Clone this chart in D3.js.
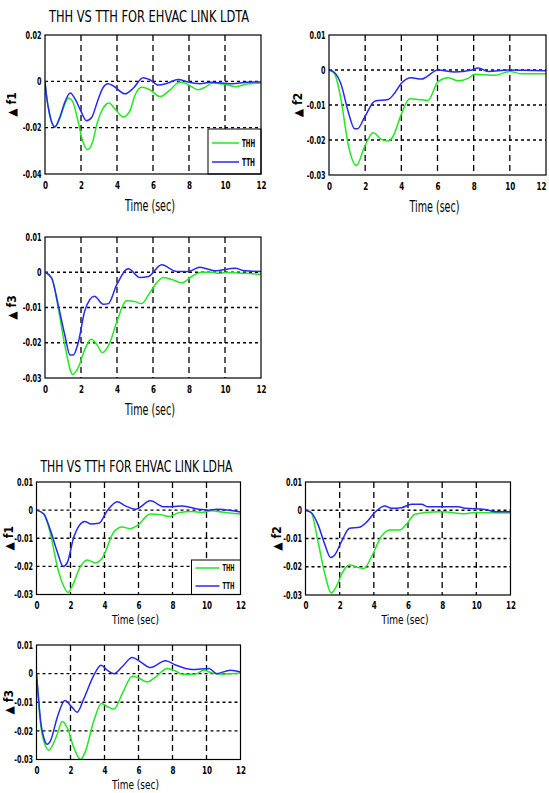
<!DOCTYPE html>
<html>
<head>
<meta charset="utf-8">
<script src="https://cdn.jsdelivr.net/npm/d3@7"></script>
<style>
  body { margin: 0; background: #fff; }
  svg text { font-family: "Liberation Sans Narrow", "DejaVu Sans Condensed", "Arial Narrow", sans-serif; }
</style>
</head>
<body>
<svg id="fig" width="549" height="793"></svg>
<script>
// ---- shared axis values ----
const timeTicks = [0, 2, 4, 6, 8, 10, 12];
const timeLabels = ["0", "2", "4", "6", "8", "10", "12"];
const ticksWide = [-0.04, -0.02, 0, 0.02];
const labelsWide = ["-0.04", "-0.02", "0", "0.02"];
const ticksStd = [-0.03, -0.02, -0.01, 0, 0.01];
const labelsStd = ["-0.03", "-0.02", "-0.01", "0", "0.01"];
const seriesNames = ["THH", "TTH"];
const titles = ["THH VS TTH FOR EHVAC LINK LDTA", "THH VS TTH FOR EHVAC LINK LDHA"];

// ---- LDTA responses: [time (s), deviation] ----
const ldtaF1Thh = [[0,0],[0.08,-0.006],[0.25,-0.014],[0.55,-0.0197],[0.8,-0.0165],[1.05,-0.011],[1.3,-0.0072],[1.55,-0.009],[1.8,-0.016],[2.1,-0.026],[2.37,-0.0295],[2.65,-0.026],[2.9,-0.018],[3.2,-0.012],[3.55,-0.0094],[3.9,-0.012],[4.35,-0.0154],[4.7,-0.013],[5.0,-0.006],[5.37,-0.0026],[5.8,-0.0035],[6.4,-0.0066],[6.9,-0.004],[7.5,-0.0003],[7.9,-0.0012],[8.5,-0.0036],[8.9,-0.0025],[9.3,-0.0007],[9.9,-0.0012],[10.6,-0.0023],[11.2,-0.0012],[12,-0.0007]];
const ldtaF1Tth = [[0,0],[0.08,-0.006],[0.25,-0.014],[0.55,-0.0197],[0.8,-0.016],[1.1,-0.009],[1.4,-0.005],[1.7,-0.008],[2.0,-0.013],[2.3,-0.017],[2.6,-0.0155],[2.9,-0.009],[3.2,-0.003],[3.5,-0.001],[3.8,-0.002],[4.45,-0.0054],[4.9,-0.003],[5.45,0.0016],[5.8,0.0008],[6.3,-0.0016],[6.8,-0.0008],[7.4,0.0008],[7.9,-0.0002],[8.6,-0.001],[9.2,-0.0004],[10.4,-0.001],[11.2,-0.0004],[12,-0.0003]];

const ldtaF2Thh = [[0,0],[0.3,-0.001],[0.68,-0.0089],[1.05,-0.021],[1.51,-0.0273],[1.97,-0.0219],[2.44,-0.0179],[2.9,-0.0198],[3.27,-0.0203],[3.54,-0.019],[4.0,-0.0126],[4.46,-0.0082],[4.93,-0.0084],[5.48,-0.0087],[6.03,-0.0033],[6.6,-0.0022],[7.14,-0.0031],[7.69,-0.0024],[8.06,-0.0012],[9.17,-0.0015],[10.0,-0.0004],[10.65,-0.0011],[12,-0.0011]];
const ldtaF2Tth = [[0,0],[0.3,-0.0007],[0.68,-0.0043],[1.05,-0.0117],[1.42,-0.0168],[1.57,-0.0168],[1.97,-0.0135],[2.53,-0.0089],[3.27,-0.0084],[3.63,-0.0066],[4.0,-0.0038],[4.56,-0.0022],[5.1,-0.0026],[6.03,0],[6.95,-0.0006],[7.9,0],[8.25,0.0006],[8.8,-0.0004],[9.9,0],[12,-0.0002]];

const ldtaF3Thh = [[0,0],[0.37,-0.0015],[0.74,-0.0103],[1.11,-0.0209],[1.54,-0.029],[1.85,-0.027],[2.22,-0.0218],[2.56,-0.019],[2.87,-0.0204],[3.19,-0.0228],[3.61,-0.0199],[3.98,-0.0142],[4.54,-0.0081],[4.91,-0.0082],[5.37,-0.0089],[5.74,-0.0065],[6.11,-0.0036],[6.57,-0.0015],[7.13,-0.0022],[7.59,-0.003],[8.15,-0.0012],[8.7,0],[9.26,0],[9.63,-0.0003],[10.1,-0.0001],[11.1,-0.0003],[12,-0.0006]];
const ldtaF3Tth = [[0,0],[0.37,-0.0017],[0.74,-0.0094],[1.11,-0.018],[1.39,-0.0235],[1.57,-0.0235],[1.85,-0.0199],[2.22,-0.0108],[2.74,-0.0068],[3.24,-0.0091],[3.52,-0.0089],[3.98,-0.0036],[4.63,0.001],[5.28,-0.0015],[5.74,-0.0012],[6.48,0.0021],[7.31,0.0002],[7.96,0.0002],[8.6,0.0014],[9.44,0.0004],[10.56,0.0011],[11.1,0.0004],[12,0.0002]];

// ---- LDHA responses ----
const ldhaF1Thh = [[0,0],[0.43,-0.0014],[0.82,-0.0084],[1.22,-0.02],[1.61,-0.0272],[1.86,-0.0293],[2.1,-0.027],[2.59,-0.02],[2.98,-0.0177],[3.47,-0.0188],[3.86,-0.0171],[4.55,-0.0078],[5.04,-0.006],[5.53,-0.0066],[5.92,-0.0055],[6.7,-0.0014],[7.29,-0.0016],[7.78,-0.0023],[8.37,-0.0009],[9.16,-0.0005],[9.75,-0.0008],[10.33,-0.0002],[10.9,-0.0007],[12,-0.0014]];
const ldhaF1Tth = [[0,0],[0.43,-0.0014],[0.82,-0.0072],[1.22,-0.0148],[1.57,-0.02],[1.8,-0.0188],[2.2,-0.0095],[2.84,-0.004],[3.18,-0.0049],[3.67,-0.0047],[4.16,-0.0002],[4.75,0.003],[5.24,0.0015],[5.82,0.0003],[6.7,0.0033],[7.49,0.0012],[7.98,0.0012],[8.57,0.0015],[9.55,0.0003],[10.1,0],[10.6,0.0003],[12,-0.0007]];

const ldhaF2Thh = [[0,0],[0.33,-0.0008],[0.72,-0.0107],[1.12,-0.0223],[1.51,-0.0293],[1.8,-0.027],[2.19,-0.0217],[2.58,-0.0194],[3.07,-0.0202],[3.42,-0.0206],[3.86,-0.0165],[4.44,-0.0093],[4.93,-0.007],[5.52,-0.007],[5.91,-0.0049],[6.4,-0.0014],[6.99,-0.0008],[7.96,-0.0005],[9.33,-0.0012],[9.92,-0.0008],[12,-0.001]];
const ldhaF2Tth = [[0,0],[0.33,-0.0008],[0.72,-0.0049],[1.12,-0.0119],[1.47,-0.0167],[1.7,-0.0159],[2.09,-0.0113],[2.58,-0.0064],[3.17,-0.006],[3.56,-0.0043],[4.05,-0.0008],[4.64,0.0015],[5.03,0.0007],[5.62,0.0009],[6.2,0.0021],[6.79,0.0021],[7.18,0.0012],[8.94,0.0012],[9.33,0.0007],[10.5,0.0003],[11.1,-0.0005],[12,-0.0005]];

const ldhaF3Thh = [[0,0],[0.1,-0.0082],[0.24,-0.0176],[0.49,-0.0247],[0.73,-0.0268],[0.92,-0.0253],[1.22,-0.0212],[1.51,-0.0167],[1.8,-0.0188],[2.2,-0.0259],[2.59,-0.03],[2.88,-0.0271],[3.37,-0.0165],[3.82,-0.0104],[4.16,-0.0115],[4.55,-0.0124],[5.04,-0.0071],[5.63,-0.0009],[6.02,-0.0015],[6.51,-0.0029],[7.0,-0.0012],[7.69,0.0018],[8.18,0.0009],[8.57,-0.0002],[9.35,-0.0002],[9.84,0.0012],[10.33,0.0002],[10.9,-0.0002],[12,0.0002]];
const ldhaF3Tth = [[0,0],[0.1,-0.0071],[0.24,-0.0165],[0.43,-0.0224],[0.63,-0.0247],[0.82,-0.0235],[1.22,-0.0153],[1.67,-0.0094],[2.1,-0.0118],[2.39,-0.0135],[2.78,-0.0088],[3.37,-0.0006],[3.8,0.0029],[4.16,0.0012],[4.55,0],[5.04,0.0024],[5.63,0.0056],[6.12,0.0041],[6.7,0.0021],[7.59,0.0045],[8.18,0.003],[8.76,0.0018],[9.16,0.0014],[10.14,0.0018],[10.6,0],[11.4,0.0012],[12,0.0006]];

// ---- panel layout ----
const panels = [
  { box: {l: 45, r: 261, t: 35, b: 174}, ticks: ticksWide, labels: labelsWide, ylabel: "▲ f1", thh: ldtaF1Thh, tth: ldtaF1Tth,
    title: titles[0], titleY: 22, titleLen: 200, legend: true, big: true, ylabX: 12 },
  { box: {l: 329, r: 546, t: 35, b: 175}, ticks: ticksStd, labels: labelsStd, ylabel: "▲ f2", thh: ldtaF2Thh, tth: ldtaF2Tth,
    big: true, ylabX: 298 },
  { box: {l: 45, r: 261, t: 237, b: 378}, ticks: ticksStd, labels: labelsStd, ylabel: "▲ f3", thh: ldtaF3Thh, tth: ldtaF3Tth,
    big: true, ylabX: 12 },
  { box: {l: 36.5, r: 240.5, t: 482, b: 594.5}, ticks: ticksStd, labels: labelsStd, ylabel: "▲ f1", thh: ldhaF1Thh, tth: ldhaF1Tth,
    title: titles[1], titleY: 472, titleLen: 192, legend: true, big: false, ylabX: 9 },
  { box: {l: 305.5, r: 510.5, t: 482, b: 595}, ticks: ticksStd, labels: labelsStd, ylabel: "▲ f2", thh: ldhaF2Thh, tth: ldhaF2Tth,
    big: false, ylabX: 277 },
  { box: {l: 36.5, r: 240.5, t: 645, b: 759.5}, ticks: ticksStd, labels: labelsStd, ylabel: "▲ f3", thh: ldhaF3Thh, tth: ldhaF3Tth,
    big: false, ylabX: 9 }
];

const colorThh = "#22e822";
const colorTth = "#2828f4";
const svg = d3.select("#fig");
const W = 549;

// squeeze a text node horizontally to a fraction of its natural width
function squeeze(sel, f) {
  sel.each(function () {
    const w = this.getComputedTextLength();
    d3.select(this).attr("textLength", w * f).attr("lengthAdjust", "spacingAndGlyphs");
  });
}

panels.forEach((p, i) => {
  const b = p.box;
  const x = d3.scaleLinear().domain([0, 12]).range([b.l, b.r]);
  const yDom = d3.extent(p.ticks);
  const y = d3.scaleLinear().domain(yDom).range([b.b, b.t]);
  const g = svg.append("g");

  g.append("rect").attr("x", b.l).attr("y", b.t).attr("width", b.r - b.l).attr("height", b.b - b.t).attr("fill", "#fff");

  // dashed grid at inner ticks
  g.selectAll("line.vg").data(timeTicks.slice(1, -1)).join("line")
    .attr("x1", d => x(d)).attr("x2", d => x(d)).attr("y1", b.t).attr("y2", b.b)
    .attr("stroke", "#000").attr("stroke-width", 1.3).attr("stroke-dasharray", "6,4");
  g.selectAll("line.hg").data(p.ticks.filter(v => v !== yDom[0] && v !== yDom[1])).join("line")
    .attr("x1", b.l).attr("x2", b.r).attr("y1", d => y(d)).attr("y2", d => y(d))
    .attr("stroke", "#000").attr("stroke-width", 1.3).attr("stroke-dasharray", "3,3");

  // curves
  const clipId = "clip" + i;
  svg.append("clipPath").attr("id", clipId).append("rect")
    .attr("x", b.l).attr("y", b.t).attr("width", b.r - b.l).attr("height", b.b - b.t);
  const line = d3.line().x(d => x(d[0])).y(d => y(d[1])).curve(d3.curveMonotoneX);
  g.append("path").datum(p.thh).attr("d", line).attr("fill", "none")
    .attr("stroke", colorThh).attr("stroke-width", 1.5).attr("clip-path", `url(#${clipId})`);
  g.append("path").datum(p.tth).attr("d", line).attr("fill", "none")
    .attr("stroke", colorTth).attr("stroke-width", 1.5).attr("clip-path", `url(#${clipId})`);

  // legend
  if (p.legend) {
    const big = p.big;
    const lw = big ? 53 : 49, lh = big ? 45 : 34.5;
    const lx = b.r - lw, ly = b.b - lh;
    const lg = g.append("g");
    lg.append("rect").attr("x", lx).attr("y", ly).attr("width", lw).attr("height", lh)
      .attr("fill", "#fff").attr("stroke", "#000").attr("stroke-width", 1);
    const rows = [colorThh, colorTth];
    const rowY = big ? [ly + 14, ly + 33] : [ly + 8, ly + 26];
    seriesNames.forEach((name, k) => {
      lg.append("line").attr("x1", lx + 4).attr("x2", lx + (big ? 31 : 28)).attr("y1", rowY[k]).attr("y2", rowY[k])
        .attr("stroke", rows[k]).attr("stroke-width", 1.5);
      lg.append("text").attr("x", lx + (big ? 34 : 31)).attr("y", rowY[k]).attr("dy", "0.35em")
        .attr("font-size", big ? 10 : 9).attr("font-weight", "bold")
        .attr("textLength", big ? 13 : 12).attr("lengthAdjust", "spacingAndGlyphs").text(name);
    });
  }

  // frame
  g.append("rect").attr("x", b.l).attr("y", b.t).attr("width", b.r - b.l).attr("height", b.b - b.t)
    .attr("fill", "none").attr("stroke", "#000").attr("stroke-width", 1.2);

  // axes
  const xa = g.append("g").attr("transform", `translate(0,${b.b})`)
    .call(d3.axisBottom(x).tickValues(timeTicks).tickFormat((d, k) => timeLabels[k]).tickSize(0).tickPadding(p.big ? 8 : 7));
  const ya = g.append("g").attr("transform", `translate(${b.l},0)`)
    .call(d3.axisLeft(y).tickValues(p.ticks).tickFormat((d, k) => p.labels[k]).tickSize(0).tickPadding(3.5));
  [xa, ya].forEach(a => {
    a.select(".domain").remove();
    a.attr("font-family", null).attr("font-size", null);
    a.selectAll("text").attr("font-size", 10).attr("font-weight", "bold").attr("fill", "#000");
  });
  squeeze(xa.selectAll("text"), 0.8);
  squeeze(ya.selectAll("text"), 0.72);
  // keep an edge label inside the page
  xa.selectAll("text").each(function (d) {
    if (x(d) + 8 > W) d3.select(this).attr("text-anchor", "end").attr("x", W - 3 - x(d));
  });

  // axis titles
  const cx = (b.l + b.r) / 2;
  g.append("text").attr("x", cx - 3).attr("y", b.b + (p.big ? 37 : 29))
    .attr("text-anchor", "middle").attr("font-size", p.big ? 16 : 13)
    .attr("textLength", p.big ? 50 : 47).attr("lengthAdjust", "spacingAndGlyphs").text("Time (sec)");
  g.append("text").attr("transform", `translate(${p.ylabX},${(b.t + b.b) / 2}) rotate(-90)`)
    .attr("text-anchor", "middle").attr("dy", "0.35em").attr("font-size", 12).attr("font-weight", "bold").text(p.ylabel);

  if (p.title) {
    g.append("text").attr("x", cx + (p.big ? -4 : -2)).attr("y", p.titleY).attr("text-anchor", "middle")
      .attr("font-size", 15).attr("textLength", p.titleLen).attr("lengthAdjust", "spacingAndGlyphs").text(p.title);
  }
});
</script>
</body>
</html>
